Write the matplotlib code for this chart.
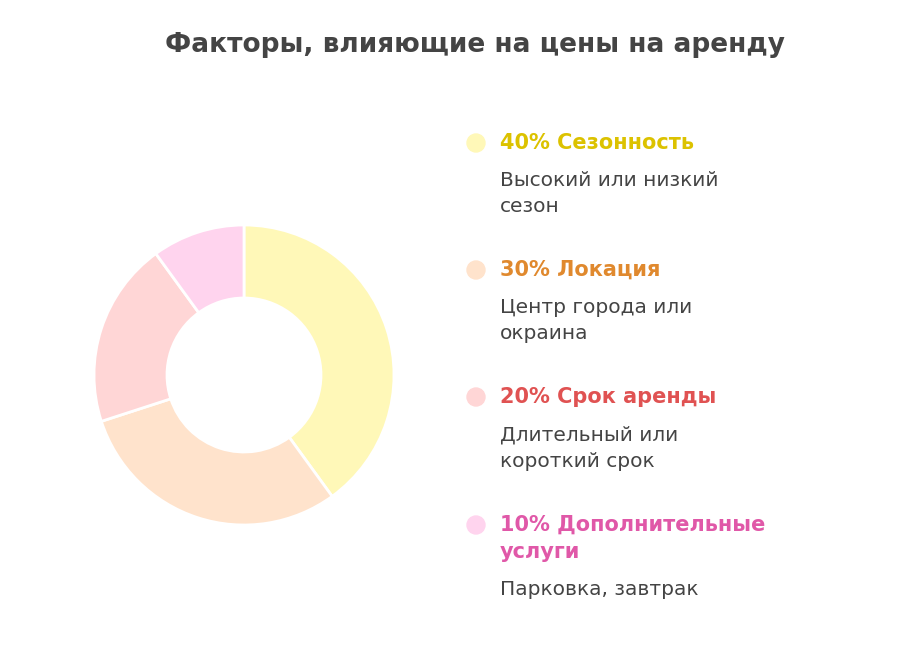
import matplotlib
matplotlib.use("Agg")
import matplotlib.pyplot as plt

title = "Факторы, влияющие на цены на аренду"
labels = ["Сезонность", "Локация", "Срок аренды", "Дополнительные\nуслуги"]
values = [40, 30, 20, 10]
descs = ["Высокий или низкий\nсезон", "Центр города или\nокраина", "Длительный или\nкороткий срок", "Парковка, завтрак"]
colors = ["#FFF8B8", "#FFE3CC", "#FFD6D6", "#FFD4EE"]
text_colors = ["#DCC200", "#E0892E", "#E05252", "#E058A8"]

W, H = 908, 647
fig = plt.figure(figsize=(W/100, H/100), dpi=100)
fig.patch.set_facecolor("white")
fig.text(475/W, 1-45/H, title, ha="center", va="center", fontsize=19, fontweight="bold", color="#444444")

r = 150
ax = fig.add_axes([(244-r)/W, 1-(375+r)/H, 2*r/W, 2*r/H])
ax.pie(values, colors=colors, startangle=90, counterclock=False, radius=1,
       wedgeprops=dict(width=73/150, edgecolor="white", linewidth=2))
ax.set_xlim(-1, 1)
ax.set_ylim(-1, 1)
ax.set_aspect("equal")
ax.axis("off")

ys = [143, 270, 397, 525]
dys = [182, 309, 437, 591]
for i in range(4):
    fig.patches.append(matplotlib.patches.Ellipse((476/W, 1-ys[i]/H), 18/W, 18/H,
                       transform=fig.transFigure, color=colors[i]))
    lab = f"{values[i]}% {labels[i]}"
    fig.text(500/W, 1-(ys[i]-10)/H, lab, ha="left", va="top", fontsize=15, fontweight="bold",
             color=text_colors[i], linespacing=1.45)
    fig.text(500/W, 1-(dys[i]-11)/H, descs[i], ha="left", va="top", fontsize=14.5,
             color="#444444", linespacing=1.45)

fig.savefig("out.png", dpi=100)
